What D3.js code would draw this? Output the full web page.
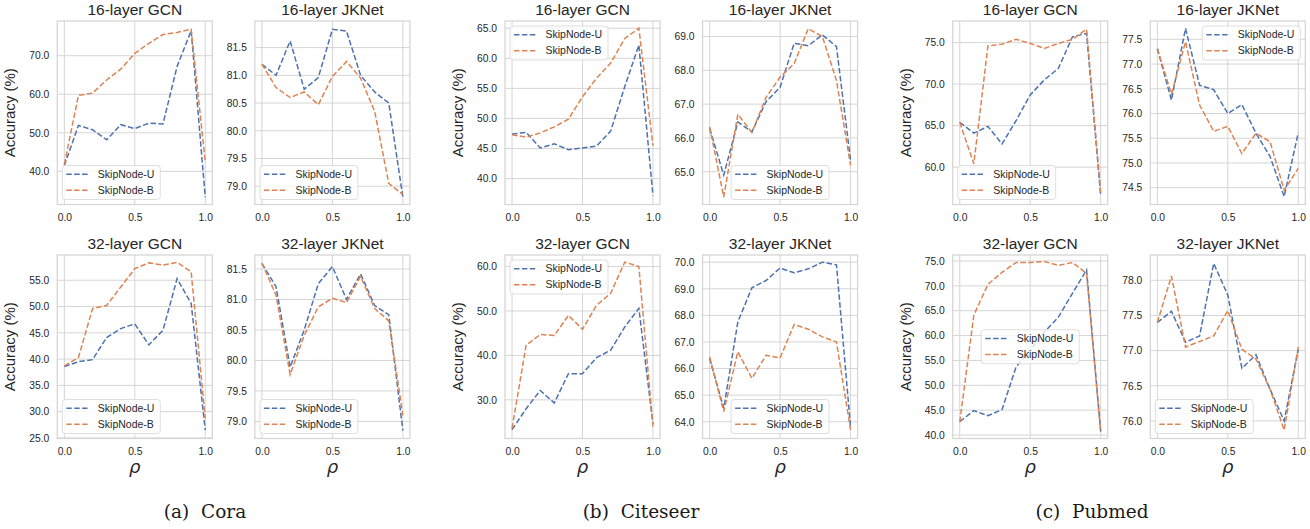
<!DOCTYPE html>
<html><head><meta charset="utf-8">
<script src="https://cdn.jsdelivr.net/npm/d3@7"></script>
<style>
body{margin:0;background:#fff}
svg{display:block}
</style>
</head><body><svg id="c" width="1310" height="529"></svg>
<script>
// ---------- data ----------
const rho = [0.0,0.1,0.2,0.3,0.4,0.5,0.6,0.7,0.8,0.9,1.0];
const xTicks = [0.0,0.5,1.0];
const seriesNames = ["SkipNode-U","SkipNode-B"];
const seriesColors = ["#4C72B0","#DD8452"];
const captions = ["(a)  Cora","(b)  Citeseer","(c)  Pubmed"];
const panelTitles = ["16-layer GCN","16-layer JKNet","32-layer GCN","32-layer JKNet"];

// Cora
const coraGcn16U  = [41.5,51.9,50.8,48.2,52.1,51.1,52.5,52.3,67.2,76.5,33.3];
const coraGcn16B  = [41.8,59.7,60.3,63.7,66.5,70.6,73.2,75.5,76.0,76.9,42.4];
const coraJk16U   = [81.20,81.00,81.62,80.75,80.96,81.83,81.80,81.00,80.70,80.50,78.80];
const coraJk16B   = [81.20,80.78,80.60,80.70,80.47,80.98,81.25,80.95,80.35,79.05,78.85];
const coraGcn32U  = [38.6,39.5,39.9,44.1,45.8,46.7,42.7,45.5,55.3,50.6,26.5];
const coraGcn32B  = [38.7,40.3,49.6,50.2,53.7,57.2,58.3,57.9,58.4,56.6,28.7];
const coraJk32U   = [81.59,81.21,79.89,80.50,81.26,81.54,81.00,81.42,80.90,80.75,78.85];
const coraJk32B   = [81.60,81.07,79.77,80.41,80.88,81.02,80.95,81.38,80.85,80.65,79.10];
// Citeseer
const citeGcn16U  = [47.4,47.7,45.1,45.8,44.8,45.1,45.4,47.9,55.3,62.2,37.2];
const citeGcn16B  = [47.3,46.9,47.6,48.6,49.9,53.6,56.7,59.2,63.3,65.0,45.5];
const citeJk16U   = [66.28,64.90,66.47,66.18,67.07,67.50,68.80,68.73,69.05,68.70,65.34];
const citeJk16B   = [66.33,64.25,66.70,66.16,67.20,67.80,68.20,69.23,69.00,67.70,65.19];
const citeGcn32U  = [23.3,28.0,32.1,29.3,35.9,35.9,39.5,41.2,46.4,50.6,24.6];
const citeGcn32B  = [23.6,42.3,44.7,44.5,49.0,45.9,51.3,54.0,61.0,60.0,24.0];
const citeJk32U   = [66.38,64.50,67.75,69.04,69.31,69.78,69.60,69.75,70.00,69.90,63.80];
const citeJk32B   = [66.44,64.38,66.63,65.63,66.50,66.40,67.66,67.48,67.19,67.00,63.69];
// Pubmed
const pubGcn16U   = [65.4,64.1,64.9,62.8,65.6,68.7,70.5,71.9,75.7,76.1,56.6];
const pubGcn16B   = [65.4,60.4,74.6,74.8,75.4,74.9,74.3,74.9,75.4,76.6,57.0];
const pubJk16U    = [77.31,76.27,77.72,76.57,76.48,76.00,76.18,75.60,75.13,74.32,75.61];
const pubJk16B    = [77.31,76.39,77.45,76.17,75.64,75.74,75.19,75.60,75.43,74.45,74.89];
const pubGcn32U   = [42.7,44.9,43.9,45.1,53.7,57.0,60.7,63.7,68.5,73.2,40.8];
const pubGcn32B   = [42.6,64.1,70.3,72.7,74.7,74.7,74.9,74.1,74.7,72.5,40.6];
const pubJk32U    = [77.40,77.56,77.12,77.21,78.24,77.79,76.75,76.94,76.45,76.00,77.02];
const pubJk32B    = [77.40,78.06,77.05,77.13,77.21,77.57,77.02,76.88,76.45,75.87,77.05];

// y-axis ranges and tick labels
const coraYRange = [[31.4,79.0],[78.67,81.98],[24.9,59.8],[78.72,81.73]];
const citeYRange = [[35.7,66.2],[64.03,69.46],[21.3,62.6],[63.37,70.27]];
const pubYRange  = [[55.5,77.6],[74.16,77.87],[39.3,76.2],[75.75,78.36]];
const coraYTicks = [[40,50,60,70],[79.0,79.5,80.0,80.5,81.0,81.5],[25,30,35,40,45,50,55],[79.0,79.5,80.0,80.5,81.0,81.5]];
const citeYTicks = [[40,45,50,55,60,65],[65,66,67,68,69],[30,40,50,60],[64,65,66,67,68,69,70]];
const pubYTicks  = [[60,65,70,75],[74.5,75.0,75.5,76.0,76.5,77.0,77.5],[40,45,50,55,60,65,70,75],[76.0,76.5,77.0,77.5,78.0]];
const coraLegend = ["lower left","lower left","lower left","lower left"];
const citeLegend = ["upper left","lower center","upper left","lower center"];
const pubLegend  = ["lower left","upper right","center","lower left"];

// ---------- build tables ----------
const groups = [
  {series:[[coraGcn16U,coraGcn16B],[coraJk16U,coraJk16B],[coraGcn32U,coraGcn32B],[coraJk32U,coraJk32B]], yr:coraYRange, yt:coraYTicks, lg:coraLegend},
  {series:[[citeGcn16U,citeGcn16B],[citeJk16U,citeJk16B],[citeGcn32U,citeGcn32B],[citeJk32U,citeJk32B]], yr:citeYRange, yt:citeYTicks, lg:citeLegend},
  {series:[[pubGcn16U,pubGcn16B],[pubJk16U,pubJk16B],[pubGcn32U,pubGcn32B],[pubJk32U,pubJk32B]], yr:pubYRange, yt:pubYTicks, lg:pubLegend}
];

// ---------- layout ----------
const SANS = '"Liberation Sans", Arial, sans-serif';
const svg = d3.select("#c");
const groupLeft = [57.3, 505.0, 952.7];
const colOffset = [0, 197.6];
const rowTop = [21, 255];
const pw = 155, ph = 183.5;
const captionX = [205, 641, 1092];
const grid = "#d5d5d5";
const ink = "#262626";

groups.forEach((g, gi) => {
  for (let p = 0; p < 4; p++) {
    const col = p % 2, row = Math.floor(p / 2);
    const x0 = groupLeft[gi] + colOffset[col], y0 = rowTop[row];
    const ax = svg.append("g").attr("transform", `translate(${x0},${y0})`);
    const x = d3.scaleLinear().domain([-0.05, 1.05]).range([0, pw]);
    const y = d3.scaleLinear().domain(g.yr[p]).range([ph, 0]);

    // grid
    ax.append("g").selectAll("line").data(xTicks).join("line")
      .attr("x1", d => x(d)).attr("x2", d => x(d)).attr("y1", 0).attr("y2", ph)
      .attr("stroke", grid).attr("stroke-width", 1);
    ax.append("g").selectAll("line").data(g.yt[p]).join("line")
      .attr("x1", 0).attr("x2", pw).attr("y1", d => y(d)).attr("y2", d => y(d))
      .attr("stroke", grid).attr("stroke-width", 1);

    // axes (labels only, no tick marks)
    const xa = ax.append("g").attr("transform", `translate(0,${ph})`)
      .call(d3.axisBottom(x).tickValues(xTicks).tickFormat(d3.format(".1f")).tickSize(0).tickPadding(9));
    const ya = ax.append("g")
      .call(d3.axisLeft(y).tickValues(g.yt[p]).tickFormat(d3.format(".1f")).tickSize(0).tickPadding(8));
    [xa, ya].forEach(a => {
      a.select(".domain").remove();
      a.selectAll("text").style("font-size", "10.3px").style("fill", ink).style("font-family", SANS);
    });

    // lines
    const line = d3.line().x((d, i) => x(rho[i])).y(d => y(d));
    g.series[p].forEach((s, si) => {
      ax.append("path").datum(s).attr("d", line).attr("fill", "none")
        .attr("stroke", seriesColors[si]).attr("stroke-width", 1.5)
        .attr("stroke-dasharray", "5.5,2.4");
    });

    // frame
    ax.append("rect").attr("x", 0).attr("y", 0).attr("width", pw).attr("height", ph)
      .attr("fill", "none").attr("stroke", grid).attr("stroke-width", 1.25);

    // title
    ax.append("text").attr("x", pw / 2).attr("y", -6).attr("text-anchor", "middle")
      .style("font-family", SANS).style("font-size", "15.5px").style("fill", ink).text(panelTitles[p]);

    // y label
    if (col === 0) {
      ax.append("text").attr("transform", `translate(${-42},${ph / 2}) rotate(-90)`)
        .attr("text-anchor", "middle").style("font-family", SANS).style("font-size", "15px")
        .style("fill", ink).text("Accuracy (%)");
    }
    // x label
    if (row === 1) {
      ax.append("text").attr("x", pw / 2).attr("y", ph + 34).attr("text-anchor", "middle")
        .style("font-size", "18px").style("font-style", "italic")
        .style("font-family", '"DejaVu Sans", sans-serif').style("fill", ink).text("ρ");
    }

    // legend
    const lw = 98, lh = 34, pad = 5;
    const loc = g.lg[p];
    let lx = pad, ly = ph - pad - lh;
    if (loc === "upper left") { lx = pad; ly = pad; }
    if (loc === "upper right") { lx = pw - pad - lw; ly = pad; }
    if (loc === "lower center") { lx = (pw - lw) / 2; ly = ph - pad - lh; }
    if (loc === "center") { lx = (pw - lw) / 2; ly = (ph - lh) / 2; }
    const lg = ax.append("g").attr("transform", `translate(${lx},${ly})`);
    lg.append("rect").attr("width", lw).attr("height", lh).attr("rx", 3)
      .attr("fill", "#fff").attr("fill-opacity", 0.8).attr("stroke", "#d5d5d5").attr("stroke-width", 0.8);
    seriesNames.forEach((n, si) => {
      const cy = 8.7 + si * 16;
      lg.append("line").attr("x1", 4).attr("x2", 27).attr("y1", cy).attr("y2", cy)
        .attr("stroke", seriesColors[si]).attr("stroke-width", 1.5).attr("stroke-dasharray", "5.5,2.4");
      lg.append("text").attr("x", 35.5).attr("y", cy).attr("dy", "0.36em")
        .style("font-family", SANS).style("font-size", "10.5px").style("fill", ink).text(n);
    });
  }
  svg.append("text").attr("x", captionX[gi]).attr("y", 518).attr("text-anchor", "middle")
    .style("font-family", '"DejaVu Serif", "Liberation Serif", serif').style("font-size", "18.5px")
    .style("fill", "#1a1a1a").style("white-space", "pre").text(captions[gi]);
});
</script>
</body></html>
